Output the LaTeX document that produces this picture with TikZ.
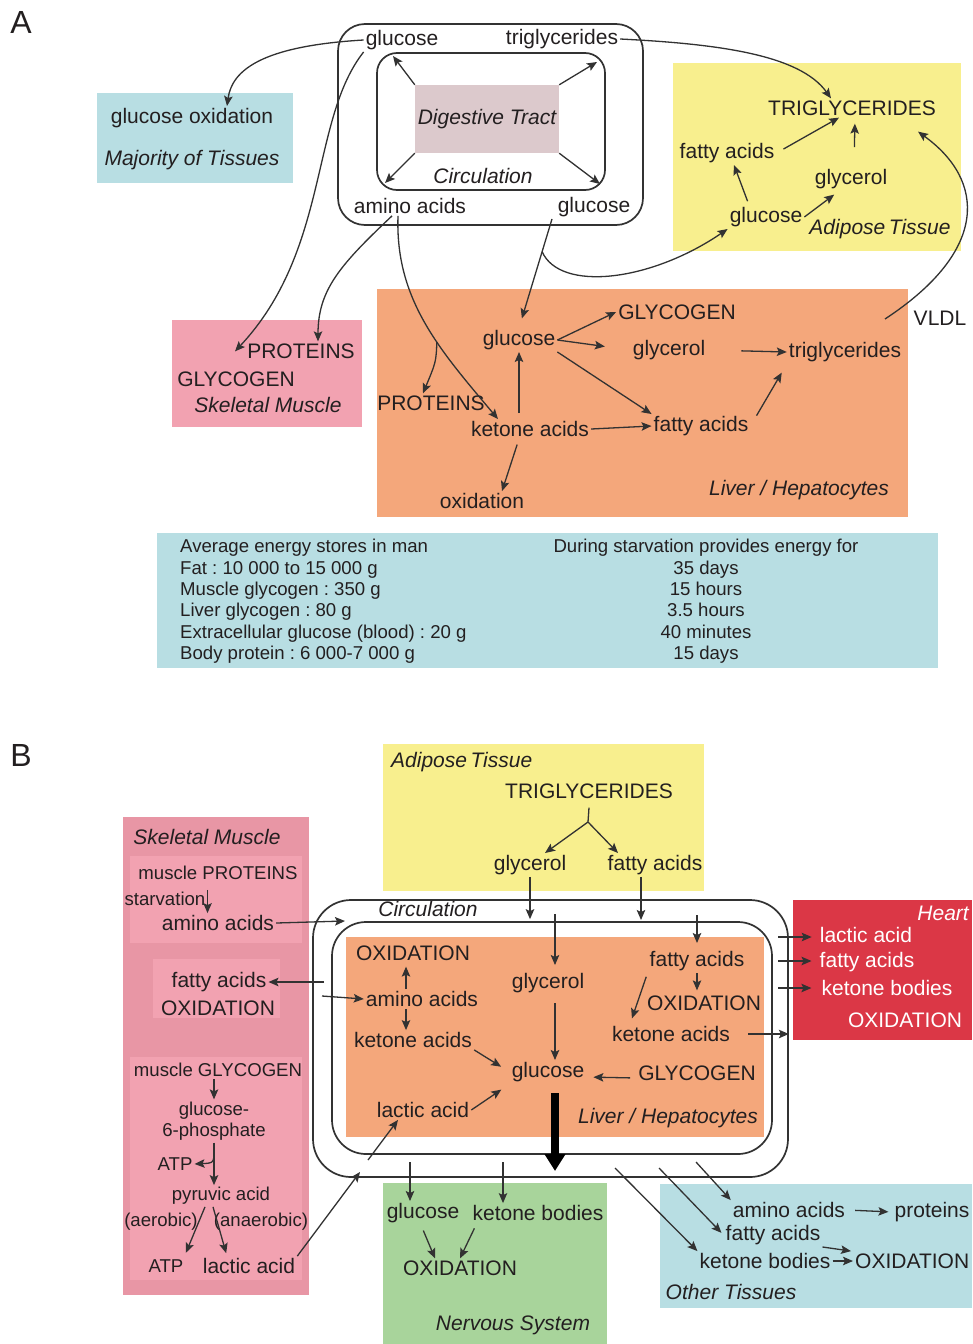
\documentclass[tikz,border=0pt]{standalone}
\usepackage{fontspec}
\setmainfont{Liberation Sans}
\usetikzlibrary{arrows.meta}
\frenchspacing

\definecolor{mbink}{RGB}{35,31,32}
\definecolor{mbline}{RGB}{50,50,50}
\definecolor{mbblue}{RGB}{184,222,227}
\definecolor{mbyellow}{RGB}{248,239,142}
\definecolor{mborange}{RGB}{244,167,123}
\definecolor{mbpink}{RGB}{242,162,177}
\definecolor{mbrose}{RGB}{232,150,165}
\definecolor{mbred}{RGB}{219,55,70}
\definecolor{mbgreen}{RGB}{168,212,155}
\definecolor{mbgut}{RGB}{220,201,204}

\tikzset{
    mb label/.style={font=\fontsize{21}{24}\selectfont, text=mbink,
                     inner sep=2pt},
    mb small/.style={font=\fontsize{18.6}{21.5}\selectfont, text=mbink,
                     inner sep=2pt},
    mb organ/.style={font=\fontsize{21}{24}\selectfont\itshape, text=mbink,
                     inner sep=2pt},
    mb white/.style={mb label, text=white},
    mb panel/.style={font=\fontsize{32}{36}\selectfont, text=mbink,
                     inner sep=0pt},
    mb info/.style={font=\fontsize{18.6}{21.4}\selectfont, text=mbink,
                    inner sep=0pt},
    mb ring/.style={draw=mbline, line width=1.7pt, inner sep=0pt},
    mb arrow/.style={-{Stealth[length=10pt, width=8.5pt, inset=2pt]},
                     line width=1.3pt, mbline},
    mb line/.style={line width=1.3pt, mbline},
    mb bulk/.style={-{Triangle[length=17pt, width=20pt]}, line width=8.5pt,
                    black},
}

\begin{document}
\begin{tikzpicture}[x=1pt, y=-1pt]
    \useasboundingbox[fill=white] (0,0) rectangle (972,1344);

    % ===== Panel A =====
    \node[mb panel] (labA) at (21,22) {A};

    % Tissue boxes
    \fill[mbblue]   (97,93)   rectangle (293,183);
    \fill[mbyellow] (673,63)  rectangle (961,251);
    \fill[mbpink]   (172,320) rectangle (362,427);
    \fill[mborange] (377,289) rectangle (908,517);
    \fill[mbblue]   (157,533) rectangle (938,668);

    % Circulation around the digestive tract
    \node[mb ring, minimum width=305, minimum height=201,
          rounded corners=27] (circOutA) at (490.5,124.5) {};
    \node[mb ring, minimum width=228, minimum height=137,
          rounded corners=20] (circInA) at (491,121.5) {};
    \node[fill=mbgut, minimum width=144, minimum height=68, inner sep=0pt,
          font=\fontsize{21}{24}\selectfont\itshape, text=mbink]
          (gutA) at (487,119) {Digestive Tract};
    \node[mb organ] (circA) at (483,176) {Circulation};
    \node[mb label] (gluTA) at (402,40)  {glucose};
    \node[mb label] (triTA) at (562,39)  {triglycerides};
    \node[mb label] (aaTA)  at (410,206) {amino acids};
    \node[mb label] (gluRA) at (594,207) {glucose};

    % Majority of tissues
    \node[mb label] (goxA) at (192,118) {glucose oxidation};
    \node[mb organ] (majA) at (192,160) {Majority of Tissues};

    % Adipose tissue
    \node[mb label] (tgA)   at (852,108) {TRIGLYCERIDES};
    \node[mb label] (faA)   at (727,153) {fatty acids};
    \node[mb label] (glyA)  at (851,179) {glycerol};
    \node[mb label] (gluAd) at (766,217) {glucose};
    \node[mb organ] (adA)   at (880,229) {Adipose\,Tissue};

    % Skeletal muscle
    \node[mb label] (protSm) at (301,351) {PROTEINS};
    \node[mb label] (glycSm) at (236,379) {GLYCOGEN};
    \node[mb organ] (smA)    at (268,405) {Skeletal Muscle};

    % Liver
    \node[mb label] (gluL)   at (519,340) {glucose};
    \node[mb label] (glycoL) at (677,312) {GLYCOGEN};
    \node[mb label] (glyL)   at (669,350) {glycerol};
    \node[mb label] (tgL)    at (845,352) {triglycerides};
    \node[mb label] (protL)  at (431,403) {PROTEINS};
    \node[mb label] (ketL)   at (530,429) {ketone acids};
    \node[mb label] (faL)    at (701,426) {fatty acids};
    \node[mb label] (oxL)    at (482,501) {oxidation};
    \node[mb organ] (livA)   at (799,490) {Liver / Hepatocytes};
    \node[mb label] (vldl)   at (940,318) {VLDL};

    % Energy stores
    \node[mb info, align=left, anchor=north west] (storesA) at (180,539)
        {Average energy stores in man\\
         Fat : 10 000 to 15 000 g\\
         Muscle glycogen : 350 g\\
         Liver glycogen : 80 g\\
         Extracellular glucose (blood) : 20 g\\
         Body protein : 6 000-7 000 g};
    \node[mb info, align=center, anchor=north] (daysA) at (706,539)
        {During starvation provides energy for\\
         35 days\\ 15 hours\\ 3.5 hours\\ 40 minutes\\ 15 days};

    % Digestive tract into circulation
    \coordinate (cornA1) at (393,56);
    \coordinate (cornA2) at (597,62);
    \coordinate (cornA3) at (385,183);
    \coordinate (cornA4) at (600,184);
    \draw[mb arrow] (gutA.north west) -- (cornA1);
    \draw[mb arrow] (gutA.north east) -- (cornA2);
    \draw[mb arrow] (gutA.south west) -- (cornA3);
    \draw[mb arrow] (gutA.south east) -- (cornA4);

    % Circulation out to the tissues
    \draw[mb arrow] (gluTA.west) .. controls (262,46) and (232,70)
        .. ([xshift=35]goxA.north);
    \draw[mb arrow] (gluTA.south west) .. controls (310,120) and (330,250)
        .. ([xshift=-1, yshift=18]glycSm.north);
    \draw[mb arrow] ([xshift=-18]aaTA.south) .. controls (340,265) and (318,290)
        .. ([xshift=17]protSm.north);
    \draw[mb arrow] ([xshift=-12]aaTA.south) .. controls (395,300) and (440,350)
        .. ([xshift=-32]ketL.north) coordinate[pos=0.6] (brA);
    \draw[mb arrow] (brA) .. controls (436,362) .. ([xshift=-8]protL.north);
    \draw[mb arrow, shorten >=10pt] ([xshift=-42]gluRA.south) -- (gluL.north)
        coordinate[pos=0.3] (brB);
    \draw[mb arrow] (brB) .. controls (560,292) and (650,282) .. (gluAd.south west);
    \draw[mb arrow] (triTA.east) .. controls (720,44) and (800,55)
        .. ([xshift=-21]tgA.north);
    \coordinate (vldlS) at (885,319);
    \draw[mb arrow] (vldlS) .. controls (990,250) and (985,180)
        .. ([shift={(-20,14)}]tgA.south east);

    % Inside adipose tissue
    \draw[mb arrow, shorten <=8pt] (faA.east) -- ([xshift=-13]tgA.south);
    \draw[mb arrow, shorten <=20pt, shorten >=6pt] ([xshift=3]glyA.north)
        -- ([xshift=3]tgA.south);
    \draw[mb arrow, shorten <=4pt] ([xshift=-17]gluAd.north) -- ([xshift=7]faA.south);
    \draw[mb arrow, shorten >=6pt] (gluAd.east) -- ([xshift=-12]glyA.south);

    % Inside the liver
    \draw[mb arrow] (gluL.east) -- (glycoL.west);
    \draw[mb arrow, shorten >=26pt] (gluL.east) -- (glyL.west);
    \draw[mb arrow] (gluL.south east) -- (faL.north west);
    \draw[mb arrow, shorten <=34pt] (glyL.east) -- (tgL.west);
    \draw[mb arrow, shorten <=12pt, shorten >=10pt] (faL.east) -- (tgL.south west);
    \draw[mb arrow] (ketL.east) -- (faL.west);
    \draw[mb arrow, shorten <=6pt] (ketL.north -| gluL.south) -- (gluL.south);
    \draw[mb arrow, shorten <=6pt] (ketL.south -| gluL.south)
        -- ([xshift=20]oxL.north);

    % ===== Panel B =====
    \node[mb panel] (labB) at (21,755) {B};

    % Tissue boxes
    \fill[mbyellow] (383,744)  rectangle (704,891);
    \fill[mbrose]   (123,817)  rectangle (309,1295);
    \fill[mbpink]   (130,856)  rectangle (302,943);
    \fill[mbpink]   (153,959)  rectangle (280,1018);
    \fill[mbpink]   (130,1057) rectangle (302,1280);
    \fill[mborange] (346,937)  rectangle (764,1137);
    \fill[mbred]    (793,900)  rectangle (972,1040);
    \fill[mbgreen]  (383,1183) rectangle (607,1344);
    \fill[mbblue]   (660,1184) rectangle (972,1308);

    % Circulation
    \node[mb ring, minimum width=475, minimum height=277,
          rounded corners=38] (ringOutB) at (550.5,1038.5) {};
    \node[mb ring, minimum width=440, minimum height=232,
          rounded corners=34] (ringInB) at (552,1038) {};
    \node[mb organ] (circB) at (428,909) {Circulation};

    % Adipose tissue
    \node[mb organ, anchor=west] (adB) at (389,762) {Adipose\,Tissue};
    \node[mb label] (tgB)  at (589,791) {TRIGLYCERIDES};
    \node[mb label] (glyB) at (530,865) {glycerol};
    \node[mb label] (faB)  at (655,865) {fatty acids};

    % Skeletal muscle
    \node[mb organ] (smB)   at (207,837)  {Skeletal Muscle};
    \node[mb small] (mProt) at (218,873)  {muscle PROTEINS};
    \node[mb small] (starv) at (165,899)  {starvation};
    \node[mb label] (aaSm)  at (218,923)  {amino acids};
    \node[mb label] (faSm)  at (219,982)  {fatty acids};
    \node[mb label] (oxSm)  at (218,1008) {OXIDATION};
    \node[mb small] (mGly)  at (218,1070) {muscle GLYCOGEN};
    \node[mb small, align=center] (g6p) at (214,1121) {glucose-\\6-phosphate};
    \node[mb small] (atp1)  at (175,1164) {ATP};
    \node[mb small] (pyr)   at (221,1196) {pyruvic acid};
    \node[mb small] (aer)   at (161,1222) {(aerobic)};
    \node[mb small] (anaer) at (261,1222) {(anaerobic)};
    \node[mb small] (atp2)  at (166,1266) {ATP};
    \node[mb label] (lacSm) at (249,1266) {lactic acid};

    % Liver
    \node[mb label] (oxB1)   at (413,953)  {OXIDATION};
    \node[mb label] (aaB)    at (422,999)  {amino acids};
    \node[mb label] (ketB1)  at (413,1040) {ketone acids};
    \node[mb label] (glyLB)  at (548,983)  {glycerol};
    \node[mb label] (faLB)   at (697,961)  {fatty acids};
    \node[mb label] (oxB2)   at (704,1003) {OXIDATION};
    \node[mb label] (ketB2)  at (671,1034) {ketone acids};
    \node[mb label] (gluB)   at (548,1072) {glucose};
    \node[mb label] (glycoB) at (697,1073) {GLYCOGEN};
    \node[mb label] (lacB)   at (423,1110) {lactic acid};
    \node[mb organ] (livB)   at (668,1118) {Liver / Hepatocytes};

    % Heart
    \node[mb white, font=\fontsize{21}{24}\selectfont\itshape, anchor=east]
          (heart) at (971,913) {Heart};
    \node[mb white] (hLac) at (866,935)  {lactic acid};
    \node[mb white] (hFa)  at (867,962)  {fatty acids};
    \node[mb white] (hKet) at (887,988)  {ketone bodies};
    \node[mb white] (hOx)  at (905,1020) {OXIDATION};

    % Nervous system
    \node[mb label] (gluN) at (423,1213) {glucose};
    \node[mb label] (ketN) at (538,1213) {ketone bodies};
    \node[mb label] (oxN)  at (460,1268) {OXIDATION};
    \node[mb organ] (nsB)  at (513,1325) {Nervous System};

    % Other tissues
    \node[mb label] (aaO)    at (789,1210) {amino acids};
    \node[mb label] (protO)  at (932,1212) {proteins};
    \node[mb label] (faO)    at (773,1235) {fatty acids};
    \node[mb label] (ketO)   at (765,1261) {ketone bodies};
    \node[mb label, anchor=west] (oxO) at (853,1261) {OXIDATION};
    \node[mb organ] (otherO) at (731,1292) {Other Tissues};

    % Adipose tissue into circulation
    \coordinate (forkB) at (588,822);
    \draw[mb line] ([yshift=-7]tgB.south) -- (forkB);
    \draw[mb arrow] (forkB) -- ([xshift=15]glyB.north);
    \draw[mb arrow] (forkB) -- ([xshift=-37]faB.north);
    \coordinate (faDrop) at (641,920);
    \draw[mb arrow, shorten >=2pt] (glyB.south) -- (glyB.south |- ringInB.north);
    \draw[mb arrow] ([xshift=-14]faB.south) -- (faDrop);

    % Circulation into the liver
    \coordinate (glyDrop) at (555,914);
    \coordinate (faDrop2) at (697,915);
    \coordinate (aaOut)   at (322,996);
    \coordinate (lacOut)  at (368,1160);
    \draw[mb arrow, shorten >=6pt] (glyDrop) -- ([xshift=7]glyLB.north);
    \draw[mb arrow, shorten >=6pt] (faDrop2) -- (faLB.north);
    \draw[mb arrow] (aaOut) -- (aaB.west);
    \draw[mb arrow] (lacOut) -- ([xshift=-25]lacB.south);

    % Inside the liver
    \draw[mb arrow, shorten >=4pt] ([xshift=-16]aaB.north) -- ([xshift=-7]oxB1.south);
    \draw[mb arrow] ([xshift=-16]aaB.south) -- ([xshift=-7]ketB1.north);
    \draw[mb arrow, shorten >=10pt] (ketB1.south east) -- (gluB.west);
    \draw[mb arrow, shorten >=10pt] (lacB.east) -- (gluB.south west);
    \draw[mb arrow, shorten <=8pt] ([xshift=7]glyLB.south) -- ([xshift=7]gluB.north);
    \draw[mb arrow, shorten <=6pt, shorten >=7pt] ([yshift=-5]glycoB.west)
        -- ([yshift=-5]gluB.east);
    \draw[mb arrow, shorten >=3pt] (faLB.south) -- (faLB.south |- oxB2.north);
    \draw[mb arrow, shorten <=4pt, shorten >=6pt] (faLB.south west)
        -- ([xshift=-41]ketB2.north);
    \draw[mb arrow, shorten <=16pt] (ketB2.east) -- (ketB2.east -| ringOutB.east);
    \coordinate (bulkEnd) at (555,1171);
    \draw[mb bulk] ([xshift=7, yshift=-9]gluB.south) -- (bulkEnd);

    % Skeletal muscle
    \coordinate (aaIn)  at (345,921);
    \coordinate (faOut) at (324,982);
    \coordinate (lacIn) at (360,1172);
    \draw[mb arrow] (starv.north east) -- (starv.north east |- aaSm.north);
    \draw[mb arrow] (aaSm.east) -- (aaIn);
    \draw[mb arrow] (faOut) -- (faSm.east);
    \draw[mb arrow] (mGly.south -| g6p.north) -- (g6p.north);
    \draw[mb arrow] (g6p.south) -- (g6p.south |- pyr.north)
        coordinate[pos=0.15] (atpBr);
    \draw[mb arrow] (atpBr) .. controls (214,1163) .. (atp1.east);
    \draw[mb arrow, shorten >=5pt] ([xshift=-16]pyr.south) -- ([xshift=18]atp2.north);
    \draw[mb arrow, shorten >=3pt] ([xshift=-8]pyr.south) -- ([xshift=-22]lacSm.north);
    \draw[mb arrow] (lacSm.north east) -- (lacIn);

    % Circulation out to the heart
    \coordinate (hcA) at (778,937);
    \coordinate (hcB) at (778,961);
    \coordinate (hcC) at (778,988);
    \draw[mb arrow, shorten >=6pt] (hcA) -- (hcA -| hLac.west);
    \draw[mb arrow, shorten >=6pt] (hcB) -- (hcB -| hFa.west);
    \draw[mb arrow, shorten >=8pt] (hcC) -- (hcC -| hKet.west);

    % Circulation out to the nervous system
    \coordinate (nsA) at (410,1162);
    \coordinate (nsB) at (503,1162);
    \draw[mb arrow] (nsA) -- ([xshift=-13]gluN.north);
    \draw[mb arrow] (nsB) -- ([xshift=-35]ketN.north);
    \draw[mb arrow, shorten <=6pt] ([xshift=-2]gluN.south) -- ([xshift=-25]oxN.north);
    \draw[mb arrow, shorten <=6pt] ([xshift=-61]ketN.south) -- (oxN.north);

    % Circulation out to the other tissues
    \coordinate (otA) at (615,1168);
    \coordinate (otB) at (659,1168);
    \coordinate (otC) at (696,1162);
    \draw[mb arrow] (otA) -- (ketO.north west);
    \draw[mb arrow, shorten >=3pt] (otB) -- (faO.west);
    \draw[mb arrow] (otC) -- (aaO.north west);
    \draw[mb arrow, shorten <=8pt, shorten >=4pt] (aaO.east) -- (protO.west);
    \draw[mb arrow, shorten >=2pt] (faO.south east) -- (oxO.north west);
    \draw[mb arrow] (ketO.east) -- (oxO.west);
\end{tikzpicture}
\end{document}
